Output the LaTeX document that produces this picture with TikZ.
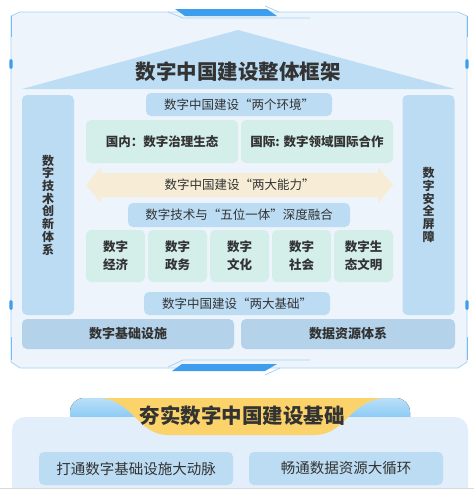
\documentclass[tikz,border=0pt]{standalone}
\usepackage{fontspec}
\setmainfont{Noto Sans CJK SC}
\usetikzlibrary{positioning}

\definecolor{framefill}{HTML}{EEF4FB}
\definecolor{frameline}{HTML}{A9D3F5}
\definecolor{accent}{HTML}{3E9DED}
\definecolor{roofblue}{HTML}{BCDDF3}
\definecolor{paleblue}{HTML}{BBDCF3}
\definecolor{palegreen}{HTML}{D4EEEA}
\definecolor{paleyellow}{HTML}{F7EDD6}
\definecolor{basebar}{HTML}{B4D3EA}
\definecolor{panelblue}{HTML}{E2EEF9}
\definecolor{tabblue}{HTML}{8CCBF4}
\definecolor{banneryellow}{HTML}{FBD36A}
\definecolor{textdark}{HTML}{333333}

\begin{document}
\begin{tikzpicture}[
    x=1pt, y=-1pt,
    box/.style={fill=#1, rounded corners=5pt, align=center, inner sep=0pt, text=textdark},
    box/.default=paleblue,
    head/.style={box, font=\fontsize{12.5}{14}\selectfont},
    sub/.style={box=palegreen, font=\bfseries\fontsize{12.5}{18}\selectfont},
    pillar/.style={box, font=\bfseries\fontsize{12}{12.7}\selectfont, minimum width=52pt, minimum height=220pt},
    bar/.style={box=basebar, font=\bfseries\fontsize{13}{15}\selectfont, minimum height=30pt},
    big/.style={font=\bfseries\fontsize{20.5}{22}\selectfont, text=textdark},
    tab/.style={fill=accent, draw=none},
    edge/.style={draw=frameline, line width=.8pt}
]
    \useasboundingbox (0,0) rectangle (474,493);
    \fill[white] (0,0) rectangle (474,493);

    % outer frame
    \path[fill=framefill, edge] (11,16) -- (20,12) -- (458,12) -- (467,16) -- (467,362)
        -- (458,368) -- (20,368) -- (11,362) -- cycle;
    \draw[accent!70, line width=1pt] (11,16) -- (11,37);
    \draw[accent!70, line width=1pt] (11,337) -- (11,360);
    \draw[accent!70, line width=1pt] (467,16) -- (467,37);
    \draw[accent!70, line width=1pt] (467,337) -- (467,360);
    \foreach \px/\py in {11/64, 467/64, 11/305, 467/305}
        \fill[accent, rounded corners=1.5pt] (\px-1.6,\py-5) rectangle (\px+1.6,\py+5);

    % top and bottom tabs
    \fill[tab] (175,9) -- (267,9) -- (277,16) -- (185,16) -- cycle;
    \draw[edge] (168,12) -- (183,18) -- (310,18);
    \draw[edge] (265,6) -- (279,12);
    \fill[tab] (182,364) -- (277,364) -- (265,371) -- (172,371) -- cycle;
    \draw[edge] (168,367) -- (183,360) -- (310,360);
    \draw[edge] (265,375) -- (280,368);

    % roof
    \fill[roofblue] (22,89) -- (238,30) -- (455,89) -- cycle;
    \node[big] (title) at (238,72) {数字中国建设整体框架};

    % pillars
    \node[pillar] (tech) at (48,205) {数\\字\\技\\术\\创\\新\\体\\系};
    \node[pillar] (safe) at (428.5,205) {数\\字\\安\\全\\屏\\障};

    % two environments
    \node[head, minimum width=186pt, minimum height=23pt] (envhead) at (239,104.5) {数字中国建设“两个环境”};
    \node[sub, minimum width=152pt, minimum height=43pt] (domestic) at (162,141.5) {国内：数字治理生态};
    \node[sub, minimum width=152pt, minimum height=43pt] (global) at (317,141.5) {国际: 数字领域国际合作};

    % two abilities
    \fill[paleyellow] (86,185) -- (101,167) -- (101,173) -- (378,173) -- (378,167) -- (393,185)
        -- (378,203) -- (378,197) -- (101,197) -- (101,203) -- cycle;
    \node[font=\fontsize{12.5}{14}\selectfont, text=textdark] (ability) at (239.5,185) {数字中国建设“两大能力”};

    % five in one
    \node[head, minimum width=222pt, minimum height=24pt] (fivehead) at (239,215) {数字技术与“五位一体”深度融合};
    \foreach \cx/\name/\txt in {115.5/econ/数字\\经济, 177.5/gov/数字\\政务, 239.5/cult/数字\\文化,
                                301.5/soc/数字\\社会, 363.5/eco/数字生\\态文明}
        \node[sub, minimum width=59pt, minimum height=52pt] (\name) at (\cx,256) {\txt};

    % two foundations
    \node[head, minimum width=186pt, minimum height=23pt] (basehead) at (237,303.5) {数字中国建设“两大基础”};
    \node[bar, minimum width=212pt] (infra) at (128,334) {数字基础设施};
    \node[bar, minimum width=214pt] (datares) at (348,334) {数据资源体系};

    % lower panel
    \fill[top color=tabblue!60, bottom color=tabblue] (70,417) -- (70,412) arc[start angle=180, end angle=270, radius=14]
        -- (396,398) arc[start angle=270, end angle=360, radius=14] -- (410,417) -- cycle;
    \fill[panelblue] (12,488) -- (12,430) arc[start angle=180, end angle=270, radius=13]
        -- (455,417) arc[start angle=270, end angle=360, radius=13] -- (468,488) -- cycle;
    \fill[banneryellow] (100,398) -- (385,398) .. controls (350,400) and (345,435) .. (315,435)
        -- (168,435) .. controls (138,435) and (133,400) .. (100,398) -- cycle;
    \node[big] (basetitle) at (242,416) {夯实数字中国建设基础};

    \node[box, font=\fontsize{14.5}{16}\selectfont, minimum width=194pt, minimum height=33pt] (artery) at (136,468.5) {打通数字基础设施大动脉};
    \node[box, font=\fontsize{14.5}{16}\selectfont, minimum width=194pt, minimum height=33pt] (cycle) at (346,468.5) {畅通数据资源大循环};

    \draw[black!15, line width=.8pt] (0,488.5) -- (474,488.5);
\end{tikzpicture}
\end{document}
